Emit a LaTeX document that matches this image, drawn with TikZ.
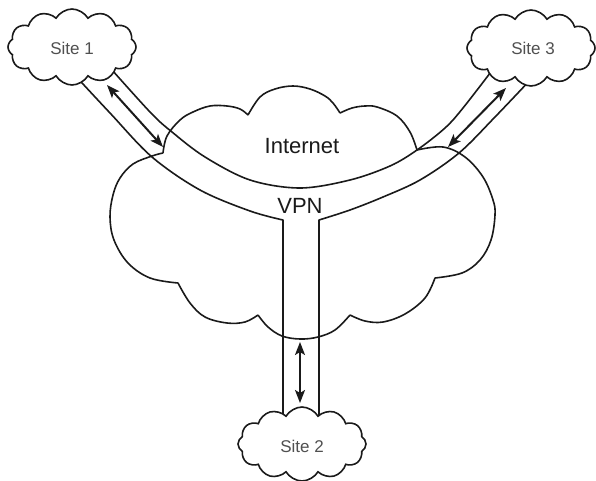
\documentclass[tikz,border=0pt]{standalone}
\usepackage{fontspec}
\setmainfont{Liberation Sans}
\usetikzlibrary{shapes.symbols,arrows.meta}
\definecolor{sitegrey}{HTML}{505050}
\definecolor{ink}{HTML}{1A1A1A}
\tikzset{
  outline/.style={draw=ink,line width=1.6pt,line join=round},
  sitecloud/.style={cloud,cloud puffs=12,cloud puff arc=120,cloud ignores aspect,
    draw=ink,line width=1.6pt,fill=white,inner sep=0pt,minimum width=128pt,minimum height=76pt},
  sitelabel/.style={text=sitegrey,inner sep=0pt,font=\fontsize{17}{20}\selectfont},
  biglabel/.style={text=ink,inner sep=0pt,font=\fontsize{22}{26}\selectfont},
  dblarrow/.style={draw=ink,line width=2pt,{Stealth[length=13pt,width=10pt,inset=3pt]}-{Stealth[length=13pt,width=10pt,inset=3pt]}}
}
\begin{document}
\begin{tikzpicture}[x=1pt,y=-1pt]
\useasboundingbox (0,0) rectangle (596,481);
% Internet cloud outline
\draw[outline]
  plot[smooth,tension=0.6] coordinates {(163,153) (167,136) (180,120) (193,112) (210,106) (227,106) (240,109) (248,115)}
  plot[smooth,tension=0.6] coordinates {(248,115) (260,97) (275,89) (293,86) (310,89) (325,96) (333,103) (340,113)}
  plot[smooth,tension=0.6] coordinates {(340,113) (352,108) (365,106) (377,107) (397,116) (410,132) (417,150)}
  plot[smooth,tension=0.6] coordinates {(417,150) (443,147) (465,157) (483,177) (493,200) (495,215) (491,240) (480,260) (462,273) (435,278)}
  plot[smooth,tension=0.6] coordinates {(435,278) (425,298) (405,314) (383,322) (365,321) (350,315)}
  plot[smooth,tension=0.6] coordinates {(350,315) (335,330) (318,337) (300,339) (282,336) (268,327) (258,315)}
  plot[smooth,tension=0.6] coordinates {(258,315) (245,322) (227,323) (205,317) (190,303) (178,283)}
  plot[smooth,tension=0.6] coordinates {(178,283) (150,278) (128,263) (114,240) (110,217) (113,195) (120,178) (133,164) (152,156) (163,153)};
% tube end points inside the site clouds
\coordinate (u1) at (104,61);
\coordinate (l1) at (70,70);
\coordinate (u3) at (497,64);
\coordinate (r3) at (533,77);
\coordinate (l2) at (283,425);
\coordinate (r2) at (319,425);
% VPN tube
\draw[outline] plot[smooth,tension=0.55] coordinates {(u1) (150,112) (172,132) (205,157) (250,180) (300,188) (350,180) (390,166) (417,150) (445,128) (463,108) (u3)};
\draw[outline] plot[smooth,tension=0.55] coordinates {(l1) (110,113) (152,157) (200,190) (250,211) (283,220)} -- (l2);
\draw[outline] (r2) -- plot[smooth,tension=0.55] coordinates {(319,220) (350,210) (383,197) (420,180) (459,153) (495,117) (r3)};
% site clouds
\node[sitecloud] (s1) at (72,47) {};
\node[sitecloud] (s3) at (531,48) {};
\node[sitecloud,minimum height=74pt] (s2) at (302,444) {};
% labels
\node[sitelabel] (t1) at (72,48) {Site 1};
\node[sitelabel] (t3) at (533,48) {Site 3};
\node[sitelabel] (t2) at (302,446) {Site 2};
\node[biglabel] (inet) at (302,146) {Internet};
\node[biglabel] (vpn) at (300,206) {VPN};
% arrows
\coordinate (a1s) at (107,85);
\coordinate (a1e) at (163,147);
\coordinate (a3s) at (506,88);
\coordinate (a3e) at (448,147);
\coordinate (a2s) at (300,342);
\coordinate (a2e) at (300,403);
\draw[dblarrow] (a1s) -- (a1e);
\draw[dblarrow] (a3s) -- (a3e);
\draw[dblarrow] (a2s) -- (a2e);
\end{tikzpicture}
\end{document}
